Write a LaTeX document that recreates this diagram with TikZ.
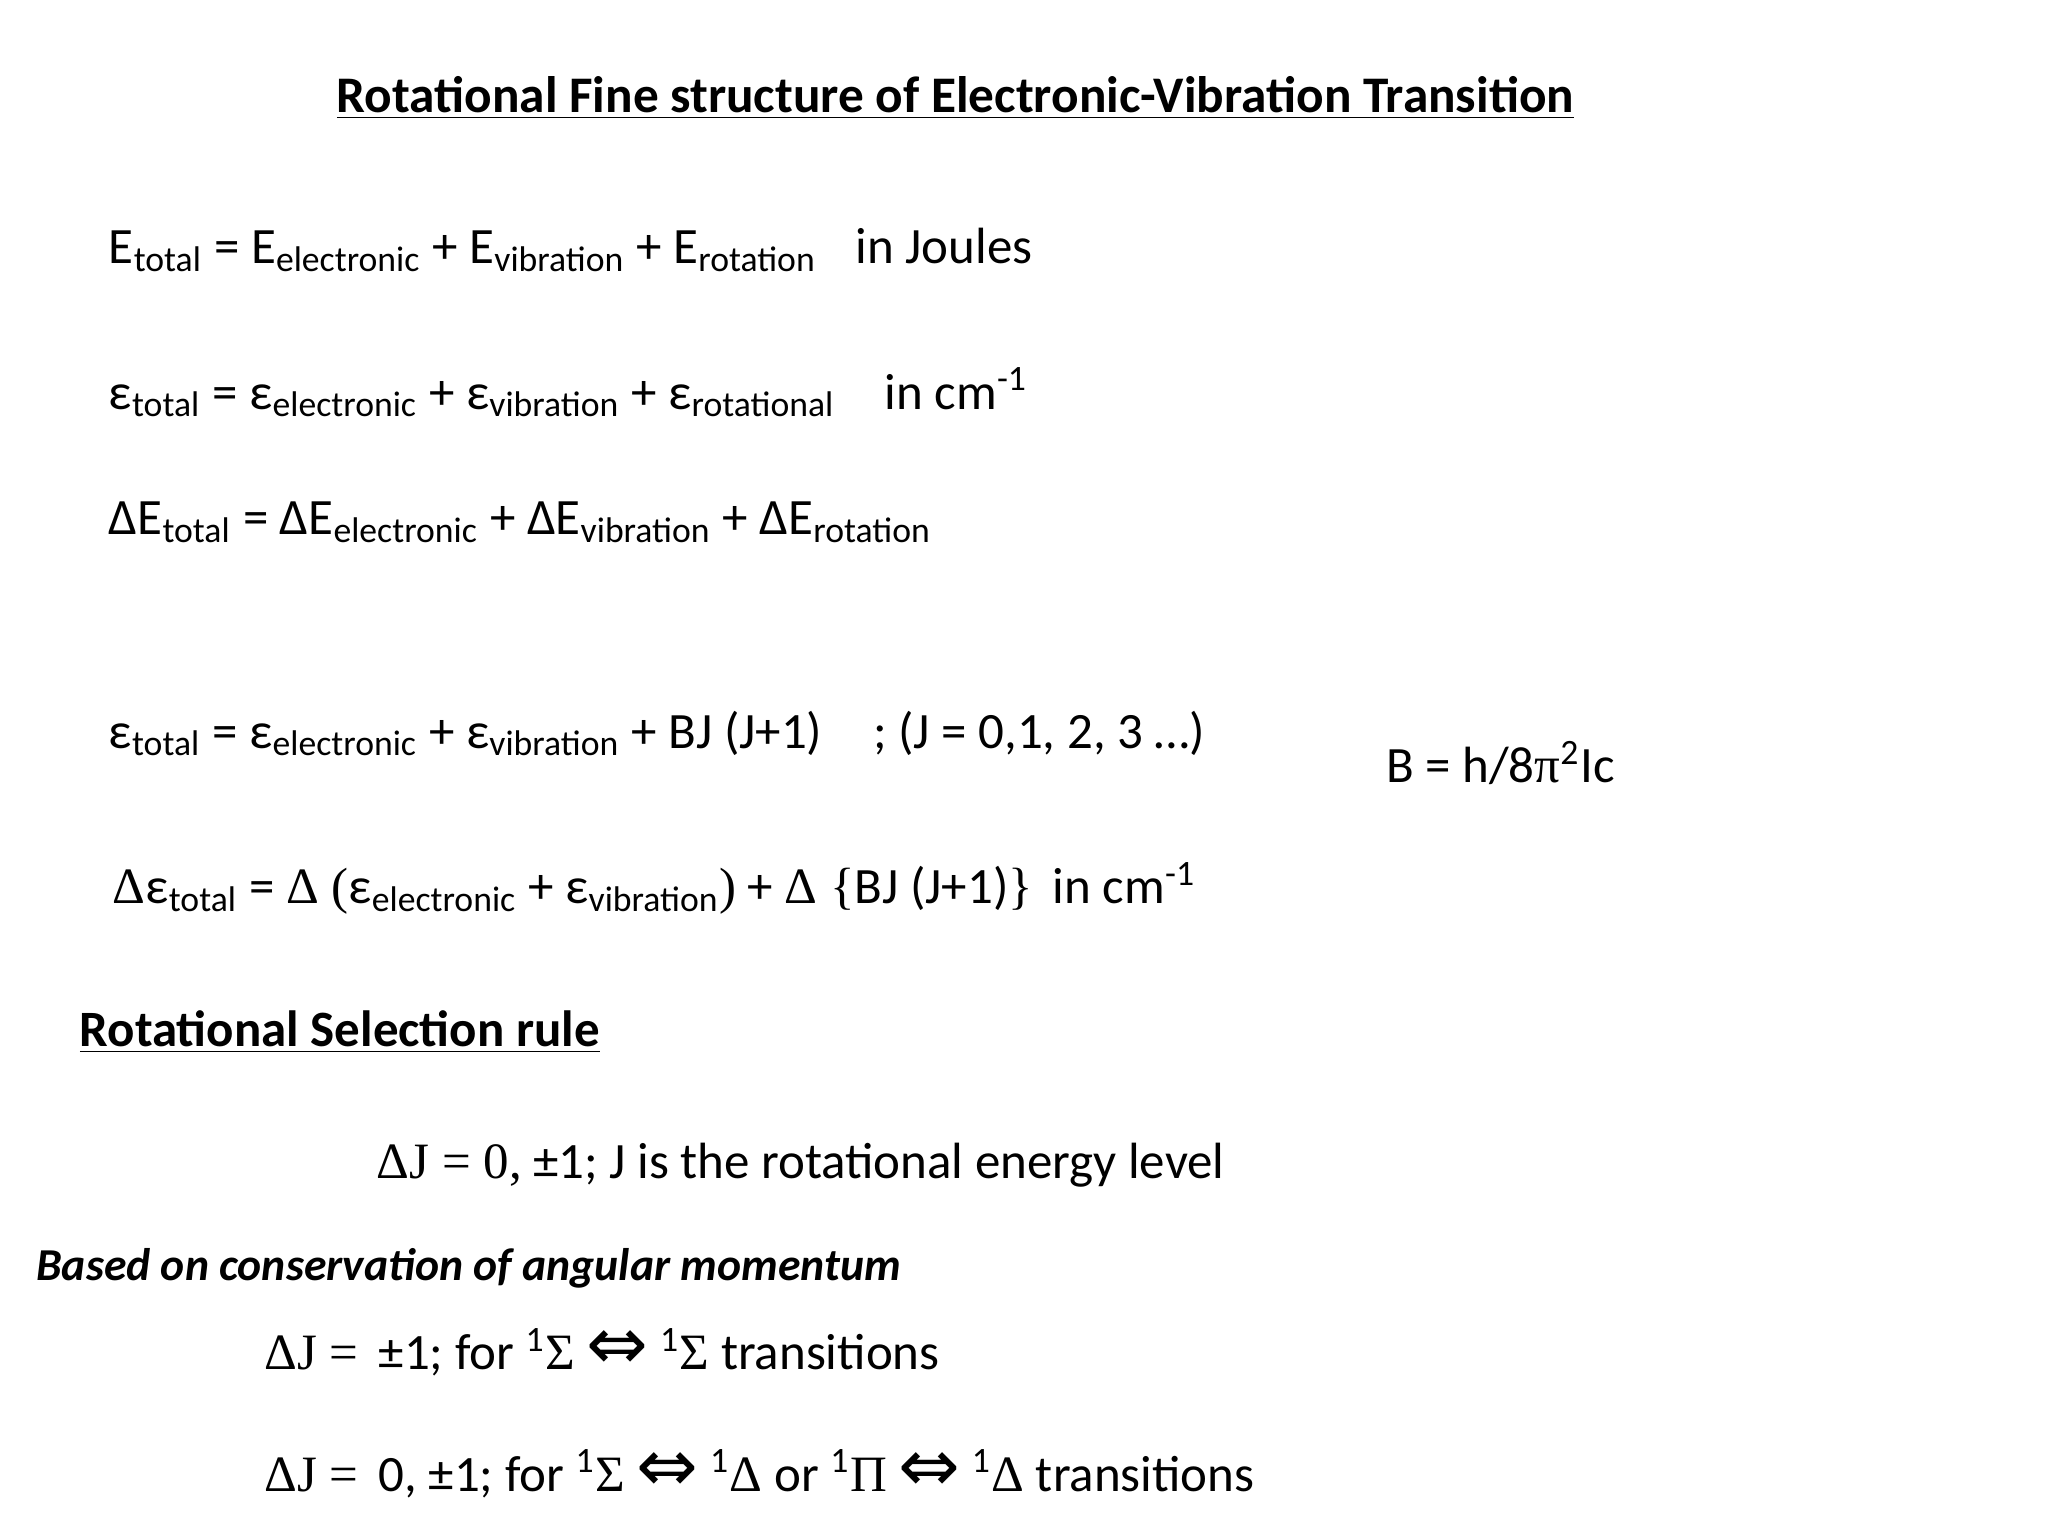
\documentclass[tikz,border=0pt]{standalone}
\usepackage{fontspec}
\setmainfont{Carlito}
\newfontfamily\serf{Liberation Serif}
\newfontfamily\dvs{DejaVu Sans}
\newcommand{\sbs}[1]{\textsubscript{#1}}
\newcommand{\sps}[1]{\textsuperscript{#1}}
\newcommand{\lr}{{\dvs\fontsize{21}{21}\selectfont ⇔}}
\begin{document}
\begin{tikzpicture}[x=0.013196cm,y=-0.013196cm,
  t/.style={anchor=base west,inner sep=0pt,font=\fontsize{14.5}{17}\selectfont}]
\useasboundingbox (0,0) rectangle (1552,1164);
\node[t,anchor=base] (title) at (724,85) {\fontsize{14.6}{17}\selectfont\bfseries\underline{Rotational Fine structure of Electronic-Vibration Transition}};
\node[t] (l1) at (82,200) {E\sbs{total} = E\sbs{electronic} + E\sbs{vibration} + E\sbs{rotation}};
\node[t] (j) at (648,200) {in Joules};
\node[t] (l2) at (82,310) {ε\sbs{total} = ε\sbs{electronic} + ε\sbs{vibration} + ε\sbs{rotational}};
\node[t] (c1) at (670,310) {in cm\sps{-1}};
\node[t] (l3) at (82,405) {ΔE\sbs{total} = ΔE\sbs{electronic} + ΔE\sbs{vibration} + ΔE\sbs{rotation}};
\node[t] (l4) at (82,567) {ε\sbs{total} = ε\sbs{electronic} + ε\sbs{vibration} + BJ (J+1)\quad; (J = 0,1, 2, 3 …)};
\node[t] (b) at (1050,593) {B = h/8{\serf π}\sps{2}Ic};
\node[t] (l5) at (85,685) {{\serf Δ}ε\sbs{total} = {\serf Δ (}ε\sbs{electronic} + ε\sbs{vibration}{\serf )} + {\serf Δ \{}BJ (J+1){\serf \}}\, in cm\sps{-1}};
\node[t] (sel) at (60,793) {\bfseries\underline{Rotational Selection rule}};
\node[t] (r1) at (285,893) {{\serf ΔJ = 0,} ±1; J is the rotational energy level};
\node[t] (cons) at (27,970) {\fontsize{13}{16}\selectfont\bfseries\itshape Based on conservation of angular momentum};
\node[t] (r2) at (200,1038) {{\serf ΔJ =}\, ±1; for \sps{1}{\serf Σ} \lr{} \sps{1}{\serf Σ} transitions};
\node[t] (r3) at (200,1130) {{\serf ΔJ =}\, 0, ±1; for \sps{1}{\serf Σ} \lr{} \sps{1}{\serf Δ} or \sps{1}{\serf Π} \lr{} \sps{1}{\serf Δ} transitions};
\end{tikzpicture}
\end{document}
